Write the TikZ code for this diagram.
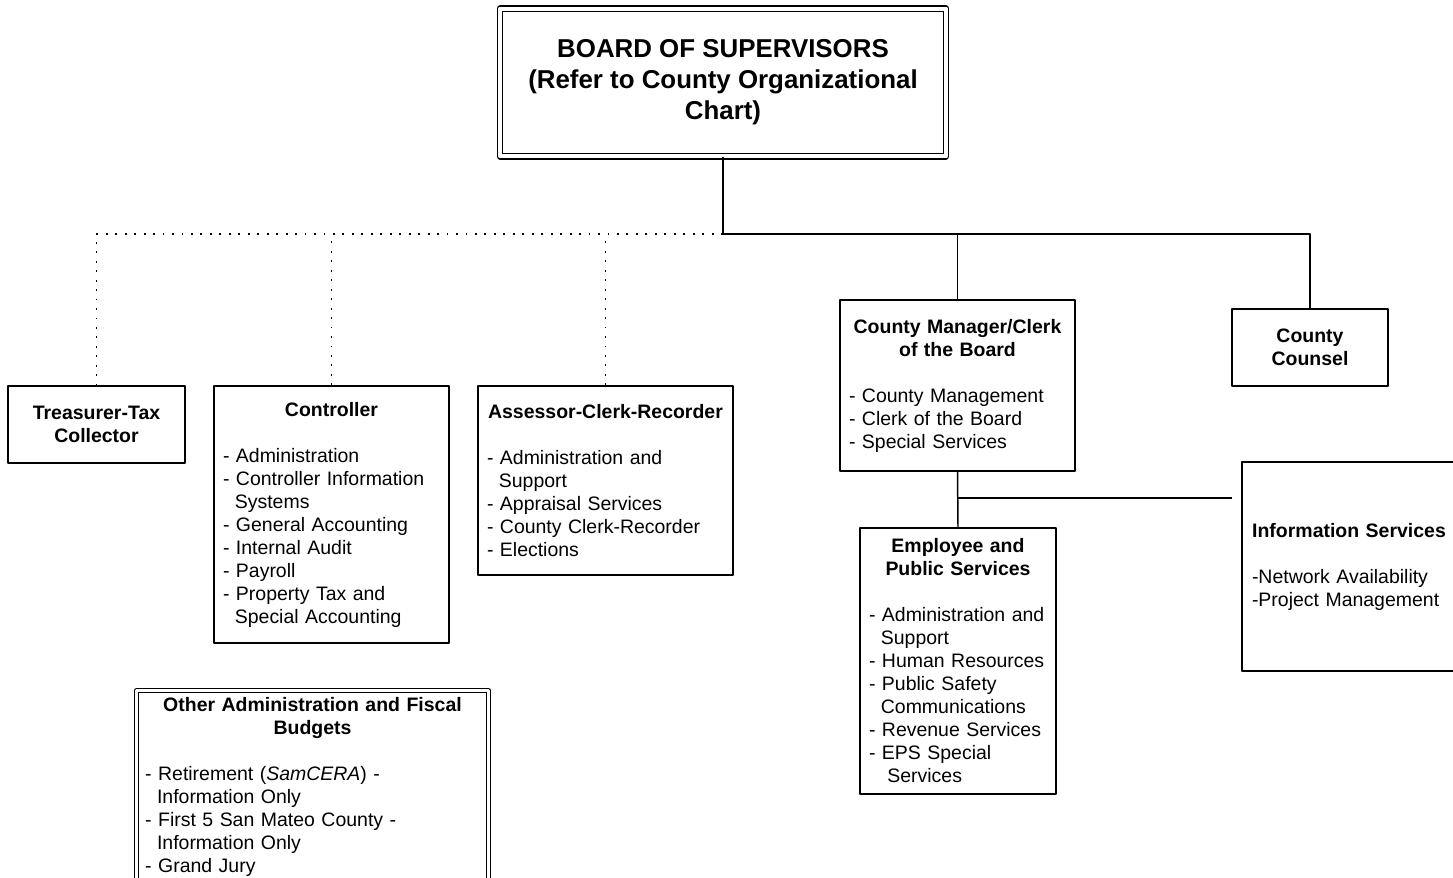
\documentclass[tikz,border=0pt]{standalone}
\usepackage{fontspec}
\setmainfont{Liberation Sans}
\usetikzlibrary{positioning}
\newcommand{\contind}{\hspace*{0.61em}}
\newcommand{\unithead}[1]{{\centering\bfseries #1\par}\vspace{17.25pt}}
\tikzset{
	unit/.style={draw, line width=1.1pt, inner xsep=6.75pt, inner ysep=0pt, align=left,
		font=\fontsize{14.6}{17.25}\selectfont},
	head/.style={unit, align=center, font=\bfseries\fontsize{14.6}{17.25}\selectfont},
	link/.style={line width=1.1pt},
	dotlink/.style={line width=1pt, dash pattern=on 1.4pt off 5.7pt}
}
\begin{document}
\begin{tikzpicture}[x=0.75pt, y=-0.75pt, line join=round]
	\useasboundingbox (0,0) rectangle (1453,878);
	% top
	\node[head, double, double distance=3.3pt, line width=0.9pt, minimum width=334.5pt, minimum height=110.6pt,
		font=\bfseries\fontsize{19.4}{23.25}\selectfont] (bos) at (723,82.5)
		{BOARD OF SUPERVISORS\\(Refer to County Organizational\\Chart)};
	% elected offices
	\node[head, minimum width=132.75pt, minimum height=57.75pt] (ttc) at (96.5,424.5) {Treasurer-Tax\\Collector};
	\node[unit, text width=162.75pt, minimum height=192.75pt] (ctrl) at (331.5,514.5)
		{\unithead{Controller}- Administration\\- Controller Information\\\contind Systems\\- General Accounting\\- Internal Audit\\- Payroll\\- Property Tax and\\\contind Special Accounting};
	\node[unit, text width=177.75pt, minimum height=141.75pt] (acr) at (605.5,480.5)
		{\unithead{\mbox{Assessor-Clerk-Recorder}}- Administration and\\\contind Support\\- Appraisal Services\\- County Clerk-Recorder\\- Elections};
	% appointed
	\node[unit, text width=162.75pt, minimum height=128.25pt] (cmgr) at (957.5,385.5)
		{\unithead{County Manager/Clerk\\of the Board}- County Management\\- Clerk of the Board\\- Special Services};
	\node[head, minimum width=117pt, minimum height=57.75pt] (ccl) at (1310,347.5) {County\\Counsel};
	\node[unit, text width=133.5pt, minimum height=199.5pt] (eps) at (958,661)
		{\unithead{Employee and\\Public Services}\mbox{- Administration and}\\\contind Support\\\mbox{- Human Resources}\\- Public Safety\\\contind Communications\\- Revenue Services\\- EPS Special\\\contind\ Services};
	\node[unit, inner xsep=7.5pt, text width=145.5pt, minimum height=156.75pt] (isd) at (1349,566.5)
		{\unithead{Information Services}-Network Availability\\-Project Management};
	% other budgets
	\node[unit, double, double distance=2pt, line width=0.9pt, inner xsep=6.5pt, inner ysep=5.25pt, text width=251pt,
		anchor=north] (oth) at (312.5,690)
		{\unithead{Other Administration and Fiscal\\Budgets}- Retirement (\textit{SamCERA}) -\\\contind Information Only\\- First 5 San Mateo County -\\\contind Information Only\\- Grand Jury\\\mbox{}\\\mbox{}};
	% connectors
	\coordinate (bus) at (bos.south |- 0,234);
	\coordinate (fork) at (cmgr.south |- 0,498);
	\coordinate (isend) at (1232,498);
	\draw[link] (bos.south) -- (bus);
	\draw[link] (bus) -| (cmgr.north);
	\draw[link] (bus) -| (ccl.north);
	\draw[dotlink] (bus) -| (ttc.north);
	\draw[dotlink] (ctrl.north) -- (ctrl.north |- bus);
	\draw[dotlink] (acr.north) -- (acr.north |- bus);
	\draw[link] (cmgr.south) -- (eps.north);
	\draw[link] (fork) -- (isend);
\end{tikzpicture}
\end{document}
